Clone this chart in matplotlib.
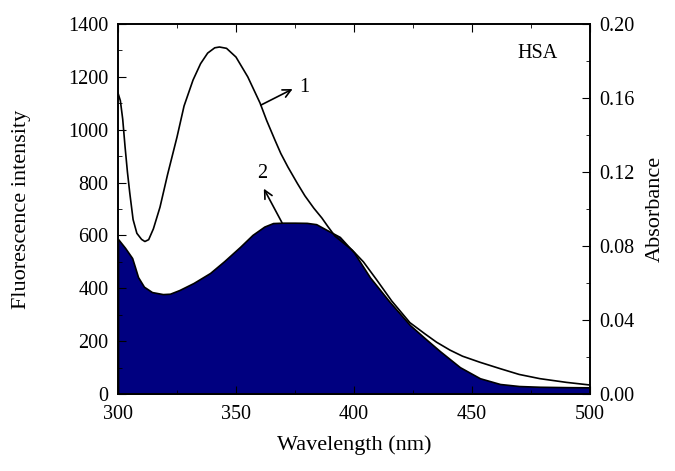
import matplotlib.pyplot as plt
from matplotlib.ticker import MultipleLocator

# curve 1: fluorescence intensity (left axis)
wl_fl = [300, 301, 302, 303, 304, 305, 306.4, 308, 310, 311.4, 313, 315, 317.8, 321, 325,
         328, 331.8, 335, 338, 341, 343, 346, 350, 355, 360.2, 363, 366.5, 369, 372, 376,
         379.2, 383, 386.4, 389, 392, 396, 399.2, 404, 409.7, 416, 423.7, 430, 435, 440.7,
         446, 453.4, 461.9, 470, 478.8, 490, 500]
fl = [1139, 1110, 1040, 935, 840, 760, 660, 608, 585, 577, 584, 625, 707, 830, 972,
      1090, 1188, 1250, 1290, 1310, 1313, 1308, 1275, 1200, 1101, 1035, 961, 910, 859, 797,
      750, 703, 666, 633, 597, 568, 545, 500, 431, 352, 270, 228, 196, 166,
      143, 120, 96, 74, 58, 44, 34]

# curve 2: absorbance (right axis)
wl_abs = [300, 303, 306, 307.2, 308.5, 311, 314.4, 319, 322, 326, 332, 339, 345, 351.7,
          357, 362, 365.7, 370, 375, 380, 384, 388, 394, 400, 406.8, 415, 423.7, 430, 436.4,
          444.9, 453.4, 461.9, 470, 478.8, 490, 500]
absb = [0.0838, 0.079, 0.0735, 0.0686, 0.0632, 0.058, 0.0551, 0.054, 0.0542, 0.0562, 0.060,
        0.0654, 0.0718, 0.0795, 0.086, 0.0905, 0.0924, 0.0926, 0.0926, 0.0925, 0.0918, 0.089,
        0.0849, 0.0765, 0.0630, 0.050, 0.0373, 0.0302, 0.0232, 0.0145, 0.0085, 0.0054,
        0.0043, 0.0039, 0.0037, 0.0036]

plt.rcParams['font.family'] = ['Liberation Serif', 'DejaVu Serif']
plt.rcParams['font.size'] = 14.5

fig = plt.figure(figsize=(6.75, 4.71), dpi=100)
ax = fig.add_axes([0.1748, 0.1635, 0.874 - 0.1748, 0.949 - 0.1635])
ax2 = ax.twinx()

# absorbance fill goes underneath the fluorescence line
ax2.fill_between(wl_abs, absb, 0, facecolor='#000080', edgecolor='black', linewidth=1.2)
ax2.set_ylim(0, 0.2)
ax2.set_ylabel('Absorbance', fontsize=16)
ax2.yaxis.set_label_coords(1.118, 0.5)
ax2.yaxis.set_major_locator(MultipleLocator(0.04))
ax2.yaxis.set_minor_locator(MultipleLocator(0.02))
ax2.yaxis.set_major_formatter(plt.FormatStrFormatter('%.2f'))

ax.set_zorder(ax2.get_zorder() + 1)
ax.patch.set_visible(False)
ax.plot(wl_fl, fl, color='black', linewidth=1.2)
ax.set_xlim(300, 500)
ax.set_ylim(0, 1400)
ax.set_xlabel('Wavelength (nm)', fontsize=16)
ax.xaxis.set_label_coords(0.5, -0.112)
ax.set_ylabel('Fluorescence intensity', fontsize=16)
ax.yaxis.set_label_coords(-0.184, 0.5)
ax.xaxis.set_major_locator(MultipleLocator(50))
ax.xaxis.set_minor_locator(MultipleLocator(25))
ax.yaxis.set_major_locator(MultipleLocator(200))
ax.yaxis.set_minor_locator(MultipleLocator(100))

for a in (ax, ax2):
    a.tick_params(which='both', direction='in', top=True, labelsize=14.5, pad=7)
    a.tick_params(which='major', length=6)
    a.tick_params(which='minor', length=3)
    for s in a.spines.values():
        s.set_linewidth(1.2)
ax.tick_params(axis='x', pad=8)
ax.tick_params(which='both', right=False)
ax2.tick_params(which='both', left=False)

# labels for the two curves, arrows point from the curve to the label
ax.annotate('', xy=(374, 1154), xytext=(360.5, 1093),
            arrowprops=dict(arrowstyle='->', color='black', lw=1.2, shrinkA=0, shrinkB=0))
ax.text(377, 1160, '1', va='center', ha='left')
ax2.annotate('', xy=(361.8, 0.111), xytext=(369.5, 0.0926),
             arrowprops=dict(arrowstyle='->', color='black', lw=1.2, shrinkA=0, shrinkB=0))
ax2.text(361, 0.119, '2', va='center', ha='center')
ax.text(478, 1290, 'HSA', va='center', ha='center')

fig.savefig('out.png', dpi=100)
